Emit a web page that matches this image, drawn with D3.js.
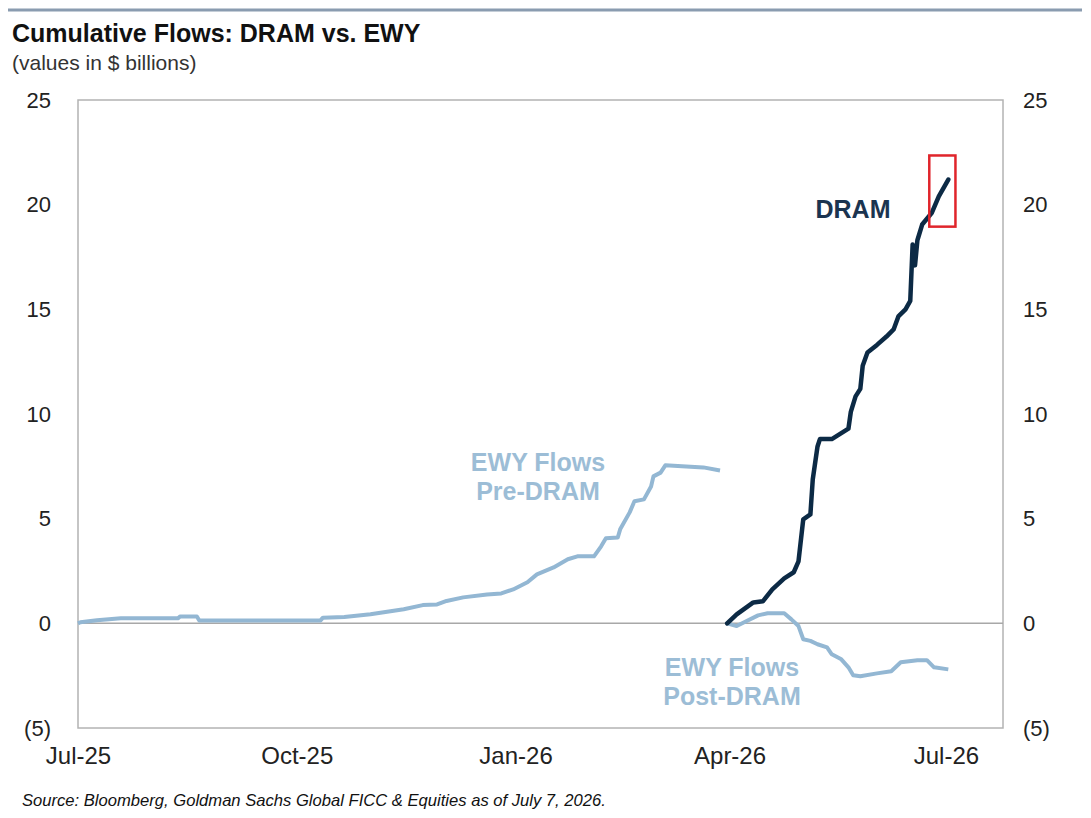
<!DOCTYPE html>
<html>
<head>
<meta charset="utf-8">
<script src="https://cdn.jsdelivr.net/npm/d3@7"></script>
<style>
  body { margin: 0; background: #fff; }
  text { font-family: "Liberation Sans", Arial, sans-serif; }
</style>
</head>
<body>
<div id="chart"></div>
<script>
// Data (values in $ billions)
const ewyPreDates = ["2025-07-01","2025-07-02","2025-07-09","2025-07-19","2025-08-12","2025-08-13","2025-08-20","2025-08-21",
  "2025-10-11","2025-10-12","2025-10-21","2025-11-01","2025-11-15","2025-11-23","2025-11-29","2025-12-03","2025-12-10",
  "2025-12-20","2025-12-26","2025-12-31","2026-01-06","2026-01-10","2026-01-17","2026-01-23","2026-01-27","2026-02-03",
  "2026-02-06","2026-02-08","2026-02-13","2026-02-14","2026-02-18","2026-02-20","2026-02-24","2026-02-27","2026-02-28",
  "2026-03-03","2026-03-05","2026-03-12","2026-03-21","2026-03-28"];
const ewyPreValues = [0.0, 0.05, 0.15, 0.24, 0.24, 0.33, 0.33, 0.14,
  0.14, 0.27, 0.3, 0.43, 0.67, 0.87, 0.9, 1.07, 1.24,
  1.38, 1.43, 1.62, 1.96, 2.34, 2.67, 3.06, 3.2, 3.2,
  3.68, 4.06, 4.1, 4.49, 5.3, 5.83, 5.92, 6.54, 7.02,
  7.2, 7.55, 7.5, 7.45, 7.3];

const dramDates = ["2026-03-31","2026-04-04","2026-04-11","2026-04-15","2026-04-19","2026-04-24","2026-04-28","2026-04-30",
  "2026-05-02","2026-05-05","2026-05-06","2026-05-08","2026-05-09","2026-05-14","2026-05-21","2026-05-22","2026-05-24",
  "2026-05-26","2026-05-27","2026-05-29","2026-06-02","2026-06-06","2026-06-09","2026-06-11","2026-06-14","2026-06-16",
  "2026-06-17","2026-06-18","2026-06-19","2026-06-21","2026-06-25","2026-06-28","2026-07-02"];
const dramValues = [0.0, 0.43, 1.0, 1.05, 1.62, 2.15, 2.44, 2.96,
  4.97, 5.2, 6.88, 8.45, 8.8, 8.8, 9.3, 10.1, 10.84,
  11.2, 12.3, 12.94, 13.3, 13.7, 14.04, 14.66, 15.0, 15.4,
  18.1, 17.1, 18.3, 19.05, 19.6, 20.4, 21.2];

const ewyPostDates = ["2026-03-31","2026-04-04","2026-04-08","2026-04-13","2026-04-17","2026-04-24","2026-04-27","2026-04-30",
  "2026-05-02","2026-05-05","2026-05-08","2026-05-12","2026-05-14","2026-05-18","2026-05-21","2026-05-23","2026-05-26",
  "2026-06-02","2026-06-08","2026-06-12","2026-06-19","2026-06-23","2026-06-26","2026-07-02"];
const ewyPostValues = [0.0, -0.13, 0.1, 0.38, 0.48, 0.48, 0.19, -0.13,
  -0.76, -0.84, -1.0, -1.15, -1.48, -1.72, -2.1, -2.48, -2.53,
  -2.39, -2.29, -1.86, -1.76, -1.76, -2.1, -2.2];

const xTicks = ["2025-07-01","2025-10-01","2026-01-01","2026-04-01","2026-07-01"];
const yTicks = [-5, 0, 5, 10, 15, 20, 25];
// highlighted window around the latest DRAM reading
const boxDates = ["2026-06-24", "2026-07-05"];
const boxValues = [18.95, 22.35];

const parse = d3.timeParse("%Y-%m-%d");
const zip = (ds, vs) => ds.map((d, i) => ({date: parse(d), value: vs[i]}));
const ewyPre = zip(ewyPreDates, ewyPreValues);
const dram = zip(dramDates, dramValues);
const ewyPost = zip(ewyPostDates, ewyPostValues);

// Chart dimensions
const W = 1091, H = 818;
const plot = {left: 78, right: 1003, top: 100, bottom: 728};

const svg = d3.select("#chart").append("svg")
    .attr("width", W)
    .attr("height", H);

svg.append("rect").attr("width", W).attr("height", H).attr("fill", "#fff");

// top rule
svg.append("line")
    .attr("x1", 8).attr("x2", 1082)
    .attr("y1", 10).attr("y2", 10)
    .attr("stroke", "#8a9cb0")
    .attr("stroke-width", 3);

// Scales
const x = d3.scaleTime()
    .domain([parse("2025-07-01"), parse("2026-07-25")])
    .range([plot.left, plot.right]);

const y = d3.scaleLinear()
    .domain([-5, 25])
    .range([plot.bottom, plot.top]);

const fmtY = d => d < 0 ? "(" + (-d) + ")" : d;

// Axes
svg.append("g")
    .attr("transform", "translate(" + plot.left + ",0)")
    .call(d3.axisLeft(y).tickValues(yTicks).tickFormat(fmtY).tickSize(0).tickPadding(27))
    .call(g => g.select(".domain").remove())
    .selectAll("text")
    .style("font-family", "'Liberation Sans', Arial, sans-serif")
    .style("font-size", "22px")
    .style("fill", "#222");

svg.append("g")
    .attr("transform", "translate(" + plot.right + ",0)")
    .call(d3.axisRight(y).tickValues(yTicks).tickFormat(fmtY).tickSize(0).tickPadding(20))
    .call(g => g.select(".domain").remove())
    .selectAll("text")
    .style("font-family", "'Liberation Sans', Arial, sans-serif")
    .style("font-size", "22px")
    .style("fill", "#222");

svg.append("g")
    .attr("transform", "translate(0," + plot.bottom + ")")
    .call(d3.axisBottom(x).tickValues(xTicks.map(parse)).tickFormat(d3.timeFormat("%b-%y")).tickSize(0).tickPadding(19))
    .call(g => g.select(".domain").remove())
    .selectAll("text")
    .style("font-family", "'Liberation Sans Narrow', 'Liberation Sans', sans-serif")
    .style("font-size", "24px")
    .style("fill", "#222");

// plot frame and zero line
svg.append("rect")
    .attr("x", plot.left).attr("y", plot.top)
    .attr("width", plot.right - plot.left)
    .attr("height", plot.bottom - plot.top)
    .attr("fill", "none")
    .attr("stroke", "#b3b3b3")
    .attr("stroke-width", 1.5);

svg.append("line")
    .attr("x1", plot.left).attr("x2", plot.right)
    .attr("y1", y(0)).attr("y2", y(0))
    .attr("stroke", "#a8a8a8")
    .attr("stroke-width", 1.5);

// Lines
const line = d3.line().x(d => x(d.date)).y(d => y(d.value));

svg.append("path").datum(ewyPre)
    .attr("d", line)
    .attr("fill", "none")
    .attr("stroke", "#93b7d3")
    .attr("stroke-width", 4)
    .attr("stroke-linejoin", "round");

svg.append("path").datum(ewyPost)
    .attr("d", line)
    .attr("fill", "none")
    .attr("stroke", "#93b7d3")
    .attr("stroke-width", 4)
    .attr("stroke-linejoin", "round");

svg.append("path").datum(dram)
    .attr("d", line)
    .attr("fill", "none")
    .attr("stroke", "#0c2a45")
    .attr("stroke-width", 4.5)
    .attr("stroke-linejoin", "round")
    .attr("stroke-linecap", "round");

// red highlight box
svg.append("rect")
    .attr("x", x(parse(boxDates[0])))
    .attr("y", y(boxValues[1]))
    .attr("width", x(parse(boxDates[1])) - x(parse(boxDates[0])))
    .attr("height", y(boxValues[0]) - y(boxValues[1]))
    .attr("fill", "none")
    .attr("stroke", "#e0252b")
    .attr("stroke-width", 2.5);

// Series labels
svg.append("text")
    .attr("x", 853).attr("y", 218)
    .attr("text-anchor", "middle")
    .style("font-size", "25px")
    .style("font-weight", "bold")
    .style("fill", "#1b3450")
    .text("DRAM");

const lab = (cx, cy, lines) => {
  const t = svg.append("text")
      .attr("text-anchor", "middle")
      .style("font-size", "25px")
      .style("font-weight", "bold")
      .style("fill", "#9cbdd6");
  lines.forEach((s, i) => t.append("tspan").attr("x", cx).attr("y", cy + i * 29).text(s));
};
lab(538, 471, ["EWY Flows", "Pre-DRAM"]);
lab(732, 676, ["EWY Flows", "Post-DRAM"]);

// Title and subtitle
svg.append("text")
    .attr("x", 12).attr("y", 42)
    .style("font-size", "25px")
    .style("font-weight", "bold")
    .style("fill", "#111")
    .text("Cumulative Flows: DRAM vs. EWY");

svg.append("text")
    .attr("x", 12).attr("y", 70)
    .style("font-size", "21px")
    .style("fill", "#333")
    .text("(values in $ billions)");

// Source
svg.append("text")
    .attr("x", 22).attr("y", 806)
    .style("font-family", "'Liberation Sans Narrow', 'Liberation Sans', sans-serif")
    .style("font-style", "italic")
    .style("font-size", "16.6px")
    .style("fill", "#111")
    .text("Source: Bloomberg, Goldman Sachs Global FICC & Equities as of July 7, 2026.");
</script>
</body>
</html>
